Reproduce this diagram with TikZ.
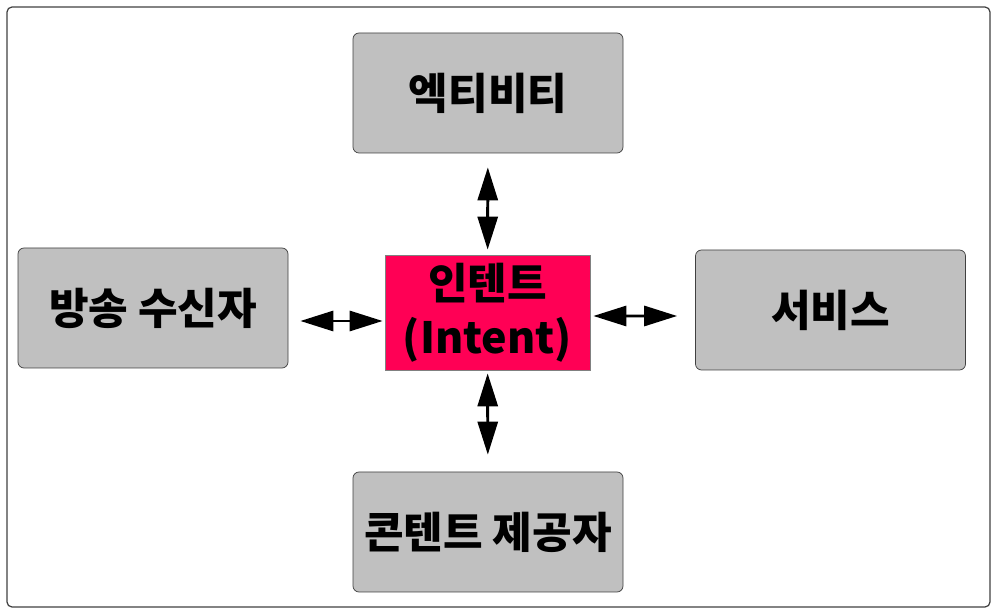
\documentclass[tikz,border=0pt]{standalone}
\usepackage{fontspec}
\setmainfont{Noto Sans CJK KR}
\usetikzlibrary{arrows.meta}

\definecolor{boxgray}{HTML}{C0C0C0}
\definecolor{intentred}{HTML}{FF0055}
\definecolor{framegray}{HTML}{404040}

\begin{document}
\begin{tikzpicture}[
    tip/.tip={Triangle[length=0.66cm, width=0.4cm]},
    comp/.style={draw=framegray, fill=boxgray, rounded corners=0.12cm,
                 minimum width=5.4cm, minimum height=2.4cm,
                 font=\fontsize{24.5}{31}\selectfont\bfseries},
    hub/.style={draw=gray, fill=intentred, minimum width=4.1cm,
                minimum height=2.3cm, align=center,
                font=\fontsize{24.5}{31}\selectfont\bfseries},
    link/.style={tip-tip, line width=1.7pt}
  ]
  \useasboundingbox (0,0) rectangle (19.94,-12.28);
  % Outer frame
  \draw[framegray, line width=0.7pt, rounded corners=0.1cm]
    (0.14,-0.14) rectangle (19.8,-12.14);

  % Components
  \node[comp] (activity) at (9.76,-1.86) {엑티비티};
  \node[comp] (receiver) at (3.06,-6.16) {방송 수신자};
  \node[comp] (service)  at (16.61,-6.2) {서비스};
  \node[comp] (provider) at (9.76,-10.64) {콘텐트 제공자};

  % Intent in the middle
  \node[hub] (intent) at (9.75,-6.25) {인텐트\\(Intent)};

  % Links
  \draw[link, shorten <=0.28cm, shorten >=0.1cm] (activity) -- (intent);
  \draw[link, shorten <=0.06cm, shorten >=0.34cm] (intent) -- (provider);
  \draw[link, shorten <=0.24cm, shorten >=0.04cm]
    ([yshift=-0.26cm]receiver.east) -- ([yshift=-0.17cm]intent.west);
  \draw[link, shorten <=0.06cm, shorten >=0.36cm]
    ([yshift=-0.07cm]intent.east) -- ([yshift=-0.12cm]service.west);
\end{tikzpicture}
\end{document}
